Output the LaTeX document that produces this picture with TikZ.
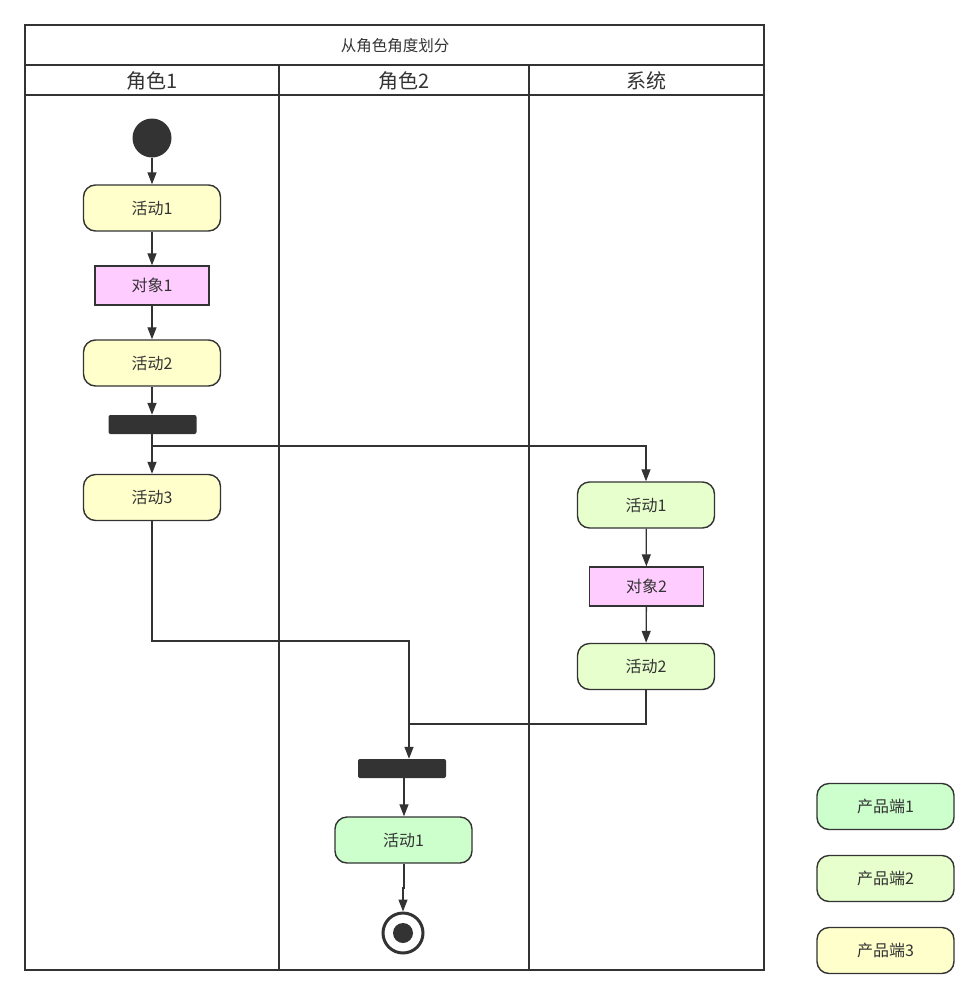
\documentclass[tikz,border=0pt]{standalone}
\usepackage{fontspec}
\setmainfont{Noto Sans CJK SC}
\usetikzlibrary{arrows.meta}
\definecolor{ln}{HTML}{333333}
\definecolor{yel}{HTML}{FFFFCC}
\definecolor{gA}{HTML}{CCFFCC}
\definecolor{gB}{HTML}{E6FFCC}
\definecolor{pk}{HTML}{FFCCFF}
\tikzset{
  act/.style={draw=ln, line width=1.4pt, rounded corners=12pt, minimum width=137pt, minimum height=46pt, inner sep=0pt, font=\fontsize{16}{18}\selectfont, text=ln},
  obj/.style={draw=ln, line width=1.4pt, fill=pk, minimum width=114pt, minimum height=39pt, inner sep=0pt, font=\fontsize{16}{18}\selectfont, text=ln},
  bar/.style={fill=ln, rounded corners=2pt, minimum width=88pt, minimum height=19pt, inner sep=0pt},
  frame/.style={draw=ln, line width=1.5pt},
  flow/.style={draw=ln, line width=1.3pt, -{Triangle[length=12pt,width=9pt]}},
  seg/.style={draw=ln, line width=1.3pt},
  hdr/.style={font=\fontsize{20}{22}\selectfont, text=ln},
}
\begin{document}
\begin{tikzpicture}[x=1pt,y=-1pt]
\useasboundingbox (0,0) rectangle (979,999);
% frame
\draw[frame] (25,25) rectangle (764,970);
\draw[frame] (25,65) -- (764,65);
\draw[frame] (25,95) -- (764,95);
\draw[frame] (279,65) -- (279,970);
\draw[frame] (529,65) -- (529,970);
\node[font=\fontsize{15.5}{17}\selectfont, text=ln] (title) at (395,46) {从角色角度划分};
\node[hdr] (h1) at (152,81) {角色1};
\node[hdr] (h2) at (404,81) {角色2};
\node[hdr] (h3) at (646,81) {系统};
% lane 1
\node[circle, fill=ln, minimum size=39pt, inner sep=0pt] (start) at (152,138) {};
\node[act, fill=yel] (a1) at (152,208) {活动1};
\node[obj] (o1) at (152,285.5) {对象1};
\node[act, fill=yel] (a2) at (152,363) {活动2};
\node[bar] (fork) at (152.5,424.5) {};
\node[act, fill=yel] (a3) at (152,497.5) {活动3};
% system lane
\node[act, fill=gB] (s1) at (646,505) {活动1};
\node[obj] (o2) at (646.5,586.5) {对象2};
\node[act, fill=gB] (s2) at (646,666.5) {活动2};
% lane 2
\node[bar] (join) at (402,768.5) {};
\node[act, fill=gA] (r1) at (403.5,840) {活动1};
\node[circle, draw=ln, line width=3pt, fill=white, minimum size=40pt, inner sep=0pt] (end) at (403,933) {};
\node[circle, fill=ln, minimum size=20pt, inner sep=0pt] (endin) at (end.center) {};
% legend
\node[act, fill=gA] (l1) at (885.5,806.5) {产品端1};
\node[act, fill=gB] (l2) at (885.5,878.5) {产品端2};
\node[act, fill=yel] (l3) at (885.5,950.5) {产品端3};
% connectors
\draw[flow] (start) -- (a1);
\draw[flow] (a1) -- (o1);
\draw[flow] (o1) -- (a2);
\draw[flow] (a2) -- (a2 |- fork.north);
\draw[flow] (a3 |- fork.south) -- (a3);
\coordinate (fb) at (152,446);
\draw[flow] (fb) -| (s1.north);
\draw[flow] (s1) -- (o2);
\draw[flow] (o2) -- (s2);
\coordinate (c1) at (152,641);
\coordinate (c2) at (409,641);
\draw[flow] (a3.south) -- (c1) -- (c2) -- (c2 |- join.north);
\coordinate (c3) at (646,724);
\coordinate (c4) at (409,724);
\draw[seg] (s2.south) -- (c3) -- (c4);
\draw[flow] (join.south -| 404,0) -- (r1.north -| 404,0);
\draw[flow] (r1.south -| 404,0) -- (404,888) -- (403,888) -- (end.north);
\end{tikzpicture}
\end{document}
